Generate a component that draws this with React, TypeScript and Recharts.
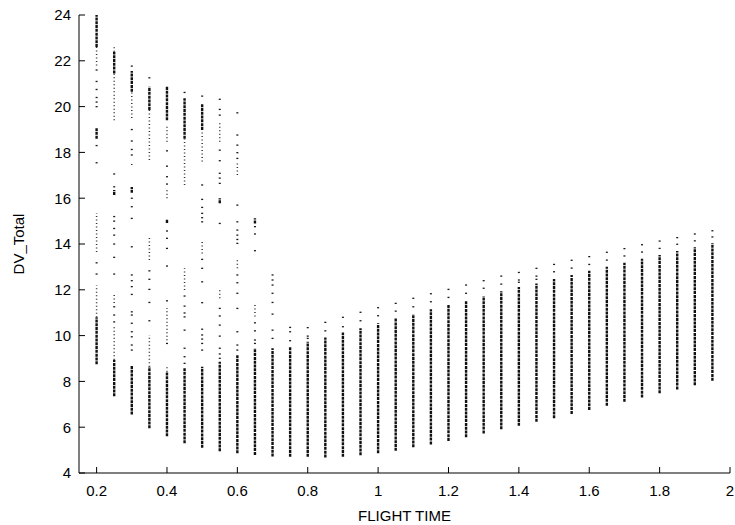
import React from 'react'
import {
  ScatterChart,
  Scatter,
  XAxis,
  YAxis,
  ReferenceLine,
  Label
} from 'recharts'

// flight time columns (x) and the main dense band of each column
const flightTimes = [
  0.2, 0.25, 0.3, 0.35, 0.4, 0.45, 0.5, 0.55, 0.6, 0.65, 0.7, 0.75,
  0.8, 0.85, 0.9, 0.95, 1.0, 1.05, 1.1, 1.15, 1.2, 1.25, 1.3, 1.35,
  1.4, 1.45, 1.5, 1.55, 1.6, 1.65, 1.7, 1.75, 1.8, 1.85, 1.9, 1.95
]
const denseLow = [
  8.75, 7.35, 6.55, 5.95, 5.6, 5.3, 5.1, 4.95, 4.86, 4.79, 4.72, 4.71,
  4.71, 4.68, 4.71, 4.77, 4.86, 4.97, 5.12, 5.25, 5.4, 5.56, 5.73, 5.91,
  6.06, 6.24, 6.39, 6.58, 6.75, 6.94, 7.11, 7.3, 7.48, 7.65, 7.83, 8.03
]
const denseHigh = [
  10.8, 8.95, 8.7, 8.64, 8.42, 8.57, 8.64, 8.86, 9.15, 9.45, 9.45, 9.52,
  9.73, 9.92, 10.13, 10.32, 10.54, 10.76, 10.94, 11.15, 11.34, 11.52, 11.73, 11.94,
  12.12, 12.28, 12.47, 12.65, 12.83, 13.01, 13.18, 13.36, 13.52, 13.69, 13.86, 14.03
]

// extra dense clusters [x, low, high]
const clusterBands: [number, number, number][] = [
  [0.2, 22.6, 24], [0.2, 18.6, 19.06], [0.25, 21.45, 22.4], [0.25, 16.14, 16.36],
  [0.3, 20.65, 21.55], [0.3, 16.24, 16.49], [0.35, 19.85, 20.87], [0.4, 19.4, 20.9],
  [0.4, 14.92, 15.09], [0.45, 18.6, 20.36], [0.5, 18.98, 20.14], [0.55, 15.78, 16.0],
  [0.65, 14.9, 15.12]
]

// looser, dotted bands [x, low, high]
const dottedBands: [number, number, number][] = [
  [0.2, 21.8, 22.6], [0.2, 13.65, 15.35], [0.2, 10.8, 12.2],
  [0.25, 8.95, 10.4], [0.25, 11.42, 11.86], [0.25, 19.4, 21.45], [0.25, 22.4, 22.6],
  [0.3, 19.5, 20.65], [0.3, 17.45, 17.6],
  [0.35, 8.64, 10.03], [0.35, 13.3, 14.26], [0.35, 17.67, 19.85],
  [0.4, 8.42, 8.67], [0.4, 9.8, 11.2], [0.4, 16.0, 16.36], [0.4, 18.47, 19.2],
  [0.45, 11.99, 12.94], [0.45, 16.58, 18.6],
  [0.5, 13.59, 14.17], [0.5, 17.6, 18.98],
  [0.55, 11.63, 12.07], [0.55, 18.47, 19.34],
  [0.6, 12.94, 13.33], [0.6, 17.01, 17.52],
  [0.65, 10.83, 11.34]
]

// isolated points, one list per column (same order as flightTimes)
const sparseValues: number[][] = [
  [12.69, 13.18, 17.55, 18.3, 20.0, 20.2, 20.4, 20.75, 21.1, 21.6],
  [10.6, 10.9, 11.26, 12.69, 13.42, 14.0, 14.39, 14.68, 15.0, 15.2, 16.5, 17.06],
  [9.37, 9.59, 9.95, 10.17, 10.54, 10.9, 11.04, 11.8, 12.14, 12.4, 12.65, 13.88, 15.12, 15.63, 16.0, 17.89, 18.13, 18.5, 19.0, 21.77],
  [10.65, 11.45, 12.02, 12.46, 12.83, 21.26],
  [9.66, 11.52, 13.04, 13.81, 14.25, 14.57, 16.62, 16.94, 17.4, 18.07],
  [8.79, 9.08, 9.45, 10.24, 10.82, 10.99, 11.29, 11.73, 20.62],
  [9.37, 9.66, 9.85, 10.03, 10.28, 11.44, 12.35, 12.94, 13.33, 14.97, 15.15, 15.34, 15.6, 15.95, 16.58, 20.46],
  [9.01, 9.2, 9.45, 9.98, 10.46, 10.86, 11.19, 14.9, 16.65, 16.88, 17.09, 17.64, 18.1, 19.63, 19.88, 20.32],
  [9.37, 9.59, 10.17, 11.19, 11.85, 12.31, 12.65, 14.03, 14.2, 14.39, 14.61, 14.97, 15.7, 17.74, 17.99, 18.32, 18.76, 19.73],
  [9.66, 9.81, 10.21, 10.56, 13.71, 14.44, 14.76],
  [9.88, 10.24, 10.94, 11.45, 11.85, 12.21, 12.43, 12.65],
  [9.78, 10.17, 10.36],
  [9.88, 9.98, 10.35],
  [10.21, 10.58],
  [10.39, 10.8],
  [10.65, 11.02],
  [10.87, 11.22],
  [11.07, 11.41],
  [11.26, 11.63],
  [11.48, 11.83],
  [11.67, 12.02],
  [11.85, 12.21],
  [12.07, 12.4],
  [12.25, 12.6],
  [12.33, 12.43, 12.76],
  [12.46, 12.6, 12.94],
  [12.79, 13.11],
  [12.95, 13.29],
  [13.11, 13.45],
  [13.3, 13.64],
  [13.48, 13.8],
  [13.65, 13.97],
  [13.81, 14.13],
  [13.99, 14.28],
  [14.14, 14.44],
  [14.31, 14.58]
]

const xTicks = [0.2, 0.4, 0.6, 0.8, 1, 1.2, 1.4, 1.6, 1.8, 2]
const yTicks = [4, 6, 8, 10, 12, 14, 16, 18, 20, 22, 24]

const font = 'Liberation Sans, Arial, Helvetica, sans-serif'
const tickStyle = { fontSize: 15, fill: '#000', fontFamily: font }

const sparsePoints = flightTimes.flatMap((x, i) => sparseValues[i].map((y) => ({ x, y })))

const Dot = (props: any) => {
  const { cx, cy } = props
  return <rect x={cx - 1} y={cy - 0.6} width={2} height={1.3} fill="#1a1a1a" />
}

export default function App() {
  const seg = (x: number, lo: number, hi: number, key: string, dense: boolean) => (
    <ReferenceLine
      key={key}
      xAxisId="main"
      yAxisId="main"
      segment={[{ x, y: lo }, { x, y: hi }]}
      stroke={dense ? '#111' : '#333'}
      strokeWidth={dense ? 2.4 : 1.5}
      strokeDasharray={dense ? '3 0.8' : '1 2.5'}
      ifOverflow="visible"
    />
  )

  return (
    <div style={{ position: 'absolute', left: 0, top: 0, background: '#fff' }}>
      <ScatterChart width={735} height={525} margin={{ top: 15, right: 5, bottom: 0, left: 0 }}>
        <XAxis
          xAxisId="main"
          type="number"
          dataKey="x"
          domain={[0.15, 2]}
          ticks={xTicks}
          interval={0}
          height={52}
          tickSize={-6}
          tickMargin={18}
          tick={tickStyle}
          axisLine={{ stroke: '#000' }}
          tickLine={{ stroke: '#000' }}
          allowDataOverflow
        >
          <Label
            value="FLIGHT TIME"
            position="insideBottom"
            offset={4}
            style={{ fontSize: 15, fill: '#000', fontFamily: font }}
          />
        </XAxis>
        <XAxis
          xAxisId="top"
          orientation="top"
          type="number"
          dataKey="x"
          domain={[0.15, 2]}
          ticks={xTicks}
          interval={0}
          height={0}
          tickSize={-6}
          tick={false}
          axisLine={{ stroke: '#000' }}
          tickLine={{ stroke: '#000' }}
          allowDataOverflow
        />
        <YAxis
          yAxisId="main"
          type="number"
          dataKey="y"
          domain={[4, 24]}
          ticks={yTicks}
          interval={0}
          width={79}
          tickSize={-6}
          tickMargin={14}
          tick={tickStyle}
          axisLine={{ stroke: '#000' }}
          tickLine={{ stroke: '#000' }}
          allowDataOverflow
        >
          <Label
            content={({ viewBox }: any) => {
              const cx = viewBox.x + 18
              const cy = viewBox.y + viewBox.height / 2
              return (
                <text
                  x={cx}
                  y={cy}
                  transform={`rotate(-90 ${cx} ${cy})`}
                  textAnchor="middle"
                  dominantBaseline="central"
                  style={{ fontSize: 15, fill: '#000', fontFamily: font }}
                >
                  DV_Total
                </text>
              )
            }}
          />
        </YAxis>
        <YAxis
          yAxisId="right"
          orientation="right"
          type="number"
          domain={[4, 24]}
          ticks={yTicks}
          interval={0}
          width={0}
          tickSize={-6}
          tick={false}
          axisLine={{ stroke: '#000' }}
          tickLine={{ stroke: '#000' }}
          allowDataOverflow
        />
        {flightTimes.map((x, i) => seg(x, denseLow[i], denseHigh[i], `d${i}`, true))}
        {clusterBands.map(([x, lo, hi], i) => seg(x, lo, hi, `c${i}`, true))}
        {dottedBands.map(([x, lo, hi], i) => seg(x, lo, hi, `t${i}`, false))}
        <Scatter
          xAxisId="main"
          yAxisId="main"
          data={sparsePoints}
          shape={Dot}
          isAnimationActive={false}
        />
      </ScatterChart>
    </div>
  )
}
